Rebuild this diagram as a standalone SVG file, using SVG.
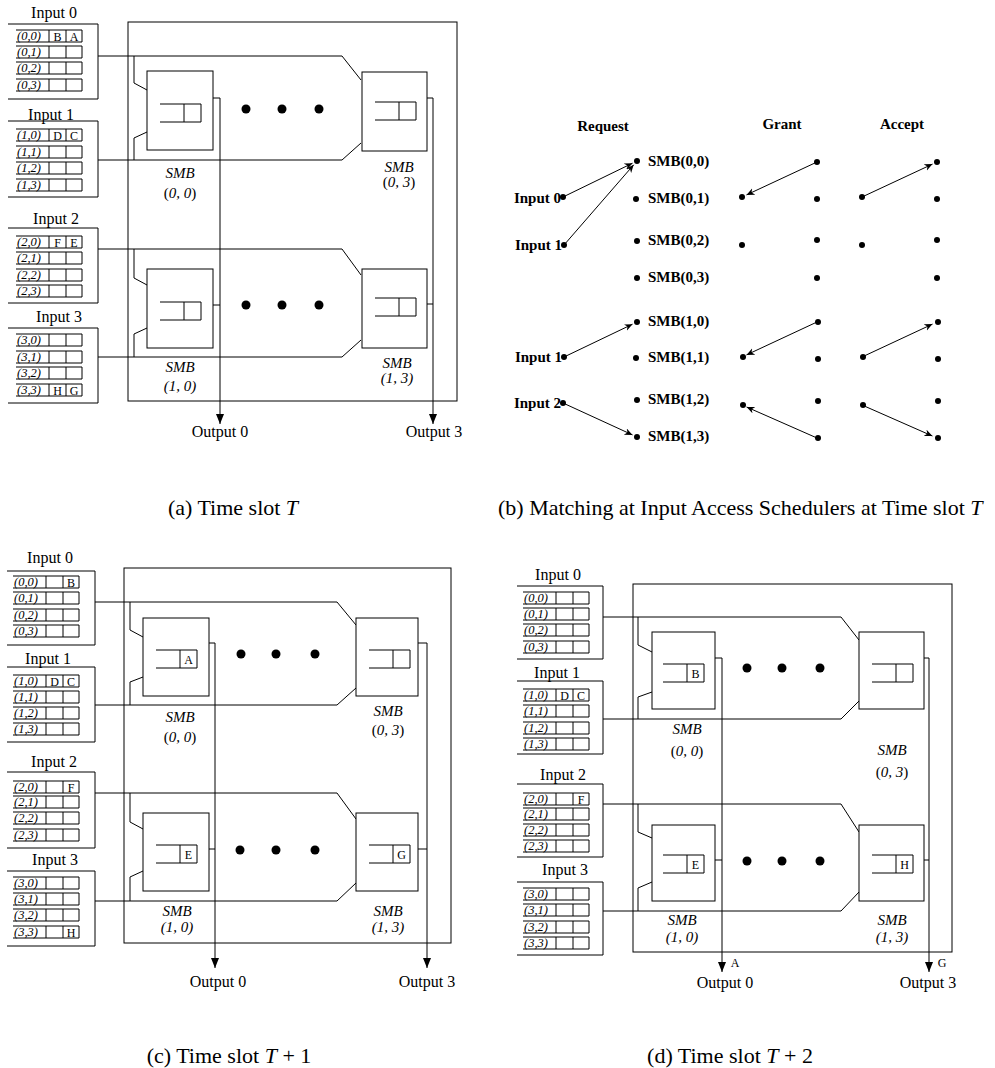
<svg xmlns="http://www.w3.org/2000/svg" width="995" height="1068" viewBox="0 0 995 1068">
<style>
.ln{fill:none;stroke:#000;stroke-width:1}
.bx{fill:#fff;stroke:#000;stroke-width:1}
text{font-family:"Liberation Serif","Times New Roman",serif;fill:#000}
.lab{font-size:16px;text-anchor:middle}
.out{font-size:16px;text-anchor:middle}
.rl{font-size:12.5px;font-style:italic}
.cl{font-size:12px;text-anchor:middle}
.smb{font-size:15px;text-anchor:middle;font-style:italic}
.up{font-style:normal}
.b{font-size:15px;font-weight:bold}
.cap{font-size:22px}
.dot{fill:#000}
</style>
<defs>
<path id="row" class="ln" d="M0,0 H66 V12 H0 M33,0 V12 M50,0 V12"/>
<path id="q" class="ln" d="M0,0 H41 V18 H0 M24,0 V18"/>
<marker id="ah" markerWidth="12" markerHeight="8" refX="10" refY="4" orient="auto" markerUnits="userSpaceOnUse"><path d="M0,0 L10,4 L0,8 z" fill="#000"/></marker>
<marker id="ab" markerWidth="10" markerHeight="8" refX="8" refY="3.5" orient="auto" markerUnits="userSpaceOnUse"><path d="M0,0 L8,3.5 L0,7 L2.5,3.5 z" fill="#000"/></marker>
</defs>
<rect width="995" height="1068" fill="#fff"/>

<!-- ================= Panel (a) ================= -->
<g id="panel-a">
<g id="a-connectors">
<rect class="ln" x="128" y="22" width="329" height="379"/>
<path class="ln" d="M98,56 H342 L361,80 M98,160 H342 L361,143 M134,56 V83 L147,90 M147,132 L134,138 V160"/>
<path class="ln" d="M98,249 H342 L361,275 M98,357 H342 L361,340 M134,249 V278 L147,285 M147,328 L134,334 V357"/>
<path class="ln" d="M213,98 H220 V305 M213,305 H220 V424" marker-end="url(#ah)"/>
<path class="ln" d="M427,98 H433 V304 M427,304 H433 V424" marker-end="url(#ah)"/>
</g>
<g id="a-in0">
<text class="lab" x="54" y="17.5">Input 0</text>
<path class="ln" d="M8,24 H98 V99 H8"/>
<use href="#row" x="16" y="30"/><use href="#row" x="16" y="46"/><use href="#row" x="16" y="62"/><use href="#row" x="16" y="79"/>
<text class="rl" x="17" y="40">(0,0)</text><text class="rl" x="17" y="56">(0,1)</text><text class="rl" x="17" y="72">(0,2)</text><text class="rl" x="17" y="89">(0,3)</text>
<text class="cl" x="57.5" y="40.5">B</text><text class="cl" x="74" y="40.5">A</text>
</g>
<g id="a-in1">
<text class="lab" x="51" y="119.5">Input 1</text>
<path class="ln" d="M8,121 H98 V197 H8"/>
<use href="#row" x="16" y="129"/><use href="#row" x="16" y="146"/><use href="#row" x="16" y="162"/><use href="#row" x="16" y="179"/>
<text class="rl" x="17" y="139">(1,0)</text><text class="rl" x="17" y="156">(1,1)</text><text class="rl" x="17" y="172">(1,2)</text><text class="rl" x="17" y="189">(1,3)</text>
<text class="cl" x="57.5" y="139.5">D</text><text class="cl" x="74" y="139.5">C</text>
</g>
<g id="a-in2">
<text class="lab" x="56" y="224">Input 2</text>
<path class="ln" d="M8,228 H98 V303 H8"/>
<use href="#row" x="16" y="236"/><use href="#row" x="16" y="252"/><use href="#row" x="16" y="269"/><use href="#row" x="16" y="285"/>
<text class="rl" x="17" y="246">(2,0)</text><text class="rl" x="17" y="262">(2,1)</text><text class="rl" x="17" y="279">(2,2)</text><text class="rl" x="17" y="295">(2,3)</text>
<text class="cl" x="57.5" y="246.5">F</text><text class="cl" x="74" y="246.5">E</text>
</g>
<g id="a-in3">
<text class="lab" x="59" y="322">Input 3</text>
<path class="ln" d="M8,328 H98 V403 H8"/>
<use href="#row" x="16" y="334"/><use href="#row" x="16" y="351"/><use href="#row" x="16" y="367"/><use href="#row" x="16" y="384"/>
<text class="rl" x="17" y="344">(3,0)</text><text class="rl" x="17" y="361">(3,1)</text><text class="rl" x="17" y="377">(3,2)</text><text class="rl" x="17" y="394">(3,3)</text>
<text class="cl" x="57.5" y="394.5">H</text><text class="cl" x="74" y="394.5">G</text>
</g>
<g id="a-smb00">
<rect class="bx" x="147" y="71" width="66" height="79"/>
<use href="#q" x="160" y="104"/>
<text class="smb" x="180" y="178">SMB</text>
<text class="smb" x="180" y="198"><tspan class="up">(</tspan>0, 0<tspan class="up">)</tspan></text>
</g>
<g id="a-smb03">
<rect class="bx" x="362" y="72" width="65" height="79"/>
<use href="#q" x="375" y="102"/>
<text class="smb" x="399" y="172">SMB</text>
<text class="smb" x="399" y="187"><tspan class="up">(</tspan>0, 3<tspan class="up">)</tspan></text>
</g>
<g id="a-smb10">
<rect class="bx" x="147" y="269" width="66" height="79"/>
<use href="#q" x="160" y="302"/>
<text class="smb" x="180" y="372">SMB</text>
<text class="smb" x="180" y="391">(1, 0)</text>
</g>
<g id="a-smb13">
<rect class="bx" x="362" y="269" width="65" height="79"/>
<use href="#q" x="375" y="298"/>
<text class="smb" x="397" y="368">SMB</text>
<text class="smb" x="397" y="383">(1, 3)</text>
</g>
<g id="a-dots">
<circle class="dot" cx="246" cy="109" r="4.5"/><circle class="dot" cx="282" cy="109" r="4.5"/><circle class="dot" cx="319" cy="109" r="4.5"/>
<circle class="dot" cx="246" cy="305" r="4.5"/><circle class="dot" cx="282" cy="305" r="4.5"/><circle class="dot" cx="319" cy="305" r="4.5"/>
</g>
<text class="out" x="220" y="437">Output 0</text>
<text class="out" x="434" y="437">Output 3</text>
<text class="cap" x="233" y="515" text-anchor="middle">(a) Time slot <tspan font-style="italic">T</tspan></text>
</g>

<!-- ================= Panel (b) ================= -->
<g id="panel-b">
<g id="b-connectors" class="ln">
<path d="M563,197 L632.5,163.2" marker-end="url(#ab)"/>
<path d="M564,245 L633.7,164.8" marker-end="url(#ab)"/>
<path d="M564,357 L632.5,324.2" marker-end="url(#ab)"/>
<path d="M563,403 L632.5,434.9" marker-end="url(#ab)"/>
<path d="M817,162 L746.5,194.9" marker-end="url(#ab)"/>
<path d="M817,322 L746.5,354.9" marker-end="url(#ab)"/>
<path d="M817,438 L746.6,407" marker-end="url(#ab)"/>
<path d="M862,197 L932.5,164.1" marker-end="url(#ab)"/>
<path d="M862,357 L932.5,324.1" marker-end="url(#ab)"/>
<path d="M862,405 L932.4,436" marker-end="url(#ab)"/>
</g>
<text class="b" x="603" y="131" text-anchor="middle">Request</text>
<text class="b" x="782" y="129" text-anchor="middle">Grant</text>
<text class="b" x="902" y="129" text-anchor="middle">Accept</text>
<g id="b-inputs">
<text class="b" x="561" y="203" text-anchor="end">Input 0</text>
<text class="b" x="562" y="250" text-anchor="end">Input 1</text>
<text class="b" x="562" y="362" text-anchor="end">Input 1</text>
<text class="b" x="561" y="408" text-anchor="end">Input 2</text>
<circle class="dot" cx="563" cy="197" r="3"/><circle class="dot" cx="564" cy="245" r="3"/><circle class="dot" cx="564" cy="357" r="3"/><circle class="dot" cx="563" cy="403" r="3"/>
</g>
<g id="b-smbs">
<circle class="dot" cx="637" cy="161" r="3"/><circle class="dot" cx="636" cy="199" r="3"/><circle class="dot" cx="637" cy="241" r="3"/><circle class="dot" cx="637" cy="278" r="3"/>
<circle class="dot" cx="637" cy="322" r="3"/><circle class="dot" cx="636" cy="358" r="3"/><circle class="dot" cx="637" cy="400" r="3"/><circle class="dot" cx="637" cy="437" r="3"/>
<text class="b" x="648" y="166">SMB(0,0)</text>
<text class="b" x="648" y="203">SMB(0,1)</text>
<text class="b" x="648" y="245">SMB(0,2)</text>
<text class="b" x="648" y="282">SMB(0,3)</text>
<text class="b" x="648" y="326">SMB(1,0)</text>
<text class="b" x="648" y="362">SMB(1,1)</text>
<text class="b" x="648" y="404">SMB(1,2)</text>
<text class="b" x="648" y="441">SMB(1,3)</text>
</g>
<g id="b-grant">
<circle class="dot" cx="742" cy="197" r="3"/><circle class="dot" cx="742" cy="245" r="3"/><circle class="dot" cx="743" cy="357" r="3"/><circle class="dot" cx="743" cy="405" r="3"/>
<circle class="dot" cx="817" cy="162" r="3"/><circle class="dot" cx="817" cy="199" r="3"/><circle class="dot" cx="817" cy="240" r="3"/><circle class="dot" cx="817" cy="278" r="3"/>
<circle class="dot" cx="818" cy="322" r="3"/><circle class="dot" cx="818" cy="359" r="3"/><circle class="dot" cx="818" cy="401" r="3"/><circle class="dot" cx="818" cy="438" r="3"/>
</g>
<g id="b-accept">
<circle class="dot" cx="862" cy="197" r="3"/><circle class="dot" cx="862" cy="245" r="3"/><circle class="dot" cx="863" cy="357" r="3"/><circle class="dot" cx="863" cy="405" r="3"/>
<circle class="dot" cx="937" cy="162" r="3"/><circle class="dot" cx="937" cy="199" r="3"/><circle class="dot" cx="937" cy="240" r="3"/><circle class="dot" cx="937" cy="278" r="3"/>
<circle class="dot" cx="938" cy="322" r="3"/><circle class="dot" cx="938" cy="359" r="3"/><circle class="dot" cx="938" cy="401" r="3"/><circle class="dot" cx="938" cy="438" r="3"/>
</g>
<text class="cap" x="498" y="515">(b) Matching at Input Access Schedulers at Time slot <tspan font-style="italic">T</tspan></text>
</g>

<!-- ================= Panel (c) ================= -->
<g id="panel-c">
<g id="c-connectors">
<rect class="ln" x="124" y="568" width="327" height="375"/>
<path class="ln" d="M95,602 H337 L356,625 M95,705 H337 L356,688 M130,602 V630 L143,637 M143,677 L130,682 V705"/>
<path class="ln" d="M95,793 H337 L356,819 M95,901 H337 L356,883 M130,793 V822 L143,829 M143,871 L130,877 V901"/>
<path class="ln" d="M209,643 H215 V849 M209,849 H215 V968" marker-end="url(#ah)"/>
<path class="ln" d="M418,643 H427 V849 M418,849 H427 V968" marker-end="url(#ah)"/>
</g>
<g id="c-in0">
<text class="lab" x="50" y="563">Input 0</text>
<path class="ln" d="M7,571 H95 V645 H7"/>
<use href="#row" x="13" y="576"/><use href="#row" x="13" y="592"/><use href="#row" x="13" y="609"/><use href="#row" x="13" y="625"/>
<text class="rl" x="14" y="586">(0,0)</text><text class="rl" x="14" y="602">(0,1)</text><text class="rl" x="14" y="619">(0,2)</text><text class="rl" x="14" y="635">(0,3)</text>
<text class="cl" x="71" y="586.5">B</text>
</g>
<g id="c-in1">
<text class="lab" x="48" y="664">Input 1</text>
<path class="ln" d="M7,667 H95 V742 H7"/>
<use href="#row" x="13" y="675"/><use href="#row" x="13" y="691"/><use href="#row" x="13" y="707"/><use href="#row" x="13" y="723"/>
<text class="rl" x="14" y="685">(1,0)</text><text class="rl" x="14" y="701">(1,1)</text><text class="rl" x="14" y="717">(1,2)</text><text class="rl" x="14" y="733">(1,3)</text>
<text class="cl" x="54.5" y="685.5">D</text><text class="cl" x="71" y="685.5">C</text>
</g>
<g id="c-in2">
<text class="lab" x="54" y="767">Input 2</text>
<path class="ln" d="M7,772 H95 V848 H7"/>
<use href="#row" x="13" y="781"/><use href="#row" x="13" y="796"/><use href="#row" x="13" y="812"/><use href="#row" x="13" y="829"/>
<text class="rl" x="14" y="791">(2,0)</text><text class="rl" x="14" y="806">(2,1)</text><text class="rl" x="14" y="822">(2,2)</text><text class="rl" x="14" y="839">(2,3)</text>
<text class="cl" x="71" y="791.5">F</text>
</g>
<g id="c-in3">
<text class="lab" x="55" y="865">Input 3</text>
<path class="ln" d="M7,871 H95 V946 H7"/>
<use href="#row" x="13" y="877"/><use href="#row" x="13" y="893"/><use href="#row" x="13" y="909"/><use href="#row" x="13" y="926"/>
<text class="rl" x="14" y="887">(3,0)</text><text class="rl" x="14" y="903">(3,1)</text><text class="rl" x="14" y="919">(3,2)</text><text class="rl" x="14" y="936">(3,3)</text>
<text class="cl" x="71" y="936.5">H</text>
</g>
<g id="c-smb00">
<rect class="bx" x="143" y="618" width="66" height="78"/>
<use href="#q" x="156" y="650"/>
<text class="cl" x="188.5" y="663.5">A</text>
<text class="smb" x="180" y="722">SMB</text>
<text class="smb" x="180" y="742"><tspan class="up">(</tspan>0, 0<tspan class="up">)</tspan></text>
</g>
<g id="c-smb03">
<rect class="bx" x="356" y="618" width="62" height="78"/>
<use href="#q" x="369" y="650"/>
<text class="smb" x="388" y="716">SMB</text>
<text class="smb" x="388" y="735"><tspan class="up">(</tspan>0, 3<tspan class="up">)</tspan></text>
</g>
<g id="c-smb10">
<rect class="bx" x="143" y="813" width="66" height="78"/>
<use href="#q" x="156" y="845"/>
<text class="cl" x="188.5" y="858.5">E</text>
<text class="smb" x="177" y="916">SMB</text>
<text class="smb" x="177" y="932">(1, 0)</text>
</g>
<g id="c-smb13">
<rect class="bx" x="356" y="813" width="62" height="78"/>
<use href="#q" x="369" y="845"/>
<text class="cl" x="401.5" y="858.5">G</text>
<text class="smb" x="388" y="916">SMB</text>
<text class="smb" x="388" y="932">(1, 3)</text>
</g>
<g id="c-dots">
<circle class="dot" cx="241" cy="654" r="4.5"/><circle class="dot" cx="276" cy="654" r="4.5"/><circle class="dot" cx="315" cy="654" r="4.5"/>
<circle class="dot" cx="240" cy="850" r="4.5"/><circle class="dot" cx="276" cy="850" r="4.5"/><circle class="dot" cx="315" cy="850" r="4.5"/>
</g>
<text class="out" x="218" y="987">Output 0</text>
<text class="out" x="427" y="987">Output 3</text>
<text class="cap" x="229" y="1063" text-anchor="middle">(c) Time slot <tspan font-style="italic">T</tspan> + 1</text>
</g>

<!-- ================= Panel (d) ================= -->
<g id="panel-d">
<g id="d-connectors">
<rect class="ln" x="633" y="584" width="319" height="368"/>
<path class="ln" d="M603,617 H841 L859,640 M603,719 H841 L859,701 M638,617 V645 L652,652 M652,692 L638,697 V719"/>
<path class="ln" d="M603,804 H841 L859,832 M603,911 H841 L859,892 M638,804 V832 L652,838 M652,882 L638,888 V911"/>
<path class="ln" d="M715,658 H722 V860 M715,860 H722 V972" marker-end="url(#ah)"/>
<path class="ln" d="M924,658 H929 V860 M924,860 H929 V972" marker-end="url(#ah)"/>
</g>
<g id="d-in0">
<text class="lab" x="558" y="580">Input 0</text>
<path class="ln" d="M517,586 H603 V659 H517"/>
<use href="#row" x="523" y="592"/><use href="#row" x="523" y="608"/><use href="#row" x="523" y="624"/><use href="#row" x="523" y="641"/>
<text class="rl" x="524" y="602">(0,0)</text><text class="rl" x="524" y="618">(0,1)</text><text class="rl" x="524" y="634">(0,2)</text><text class="rl" x="524" y="651">(0,3)</text>
</g>
<g id="d-in1">
<text class="lab" x="557" y="678">Input 1</text>
<path class="ln" d="M517,681 H603 V754 H517"/>
<use href="#row" x="523" y="689"/><use href="#row" x="523" y="705"/><use href="#row" x="523" y="722"/><use href="#row" x="523" y="738"/>
<text class="rl" x="524" y="699">(1,0)</text><text class="rl" x="524" y="715">(1,1)</text><text class="rl" x="524" y="732">(1,2)</text><text class="rl" x="524" y="748">(1,3)</text>
<text class="cl" x="564.5" y="699.5">D</text><text class="cl" x="581" y="699.5">C</text>
</g>
<g id="d-in2">
<text class="lab" x="563" y="780">Input 2</text>
<path class="ln" d="M517,784 H603 V857 H517"/>
<use href="#row" x="523" y="793"/><use href="#row" x="523" y="808"/><use href="#row" x="523" y="824"/><use href="#row" x="523" y="840"/>
<text class="rl" x="524" y="803">(2,0)</text><text class="rl" x="524" y="818">(2,1)</text><text class="rl" x="524" y="834">(2,2)</text><text class="rl" x="524" y="850">(2,3)</text>
<text class="cl" x="581" y="803.5">F</text>
</g>
<g id="d-in3">
<text class="lab" x="565" y="875">Input 3</text>
<path class="ln" d="M517,882 H603 V955 H517"/>
<use href="#row" x="523" y="888"/><use href="#row" x="523" y="904"/><use href="#row" x="523" y="921"/><use href="#row" x="523" y="937"/>
<text class="rl" x="524" y="898">(3,0)</text><text class="rl" x="524" y="914">(3,1)</text><text class="rl" x="524" y="931">(3,2)</text><text class="rl" x="524" y="947">(3,3)</text>
</g>
<g id="d-smb00">
<rect class="bx" x="652" y="632" width="63" height="77"/>
<use href="#q" x="663" y="664"/>
<text class="cl" x="695.5" y="677.5">B</text>
<text class="smb" x="687" y="734">SMB</text>
<text class="smb" x="687" y="756"><tspan class="up">(</tspan>0, 0<tspan class="up">)</tspan></text>
</g>
<g id="d-smb03">
<rect class="bx" x="859" y="632" width="65" height="77"/>
<use href="#q" x="872" y="664"/>
<text class="smb" x="892" y="755">SMB</text>
<text class="smb" x="892" y="777"><tspan class="up">(</tspan>0, 3<tspan class="up">)</tspan></text>
</g>
<g id="d-smb10">
<rect class="bx" x="652" y="825" width="63" height="76"/>
<use href="#q" x="663" y="855"/>
<text class="cl" x="695.5" y="868.5">E</text>
<text class="smb" x="682" y="925">SMB</text>
<text class="smb" x="682" y="942">(1, 0)</text>
</g>
<g id="d-smb13">
<rect class="bx" x="859" y="825" width="65" height="76"/>
<use href="#q" x="872" y="855"/>
<text class="cl" x="904.5" y="868.5">H</text>
<text class="smb" x="892" y="925">SMB</text>
<text class="smb" x="892" y="942">(1, 3)</text>
</g>
<g id="d-dots">
<circle class="dot" cx="747" cy="668" r="4.5"/><circle class="dot" cx="782" cy="668" r="4.5"/><circle class="dot" cx="820" cy="668" r="4.5"/>
<circle class="dot" cx="747" cy="861" r="4.5"/><circle class="dot" cx="782" cy="861" r="4.5"/><circle class="dot" cx="820" cy="861" r="4.5"/>
</g>
<text class="cl" x="735" y="967">A</text>
<text class="cl" x="942" y="967">G</text>
<text class="out" x="725" y="988">Output 0</text>
<text class="out" x="928" y="988">Output 3</text>
<text class="cap" x="730" y="1063" text-anchor="middle">(d) Time slot <tspan font-style="italic">T</tspan> + 2</text>
</g>
</svg>
